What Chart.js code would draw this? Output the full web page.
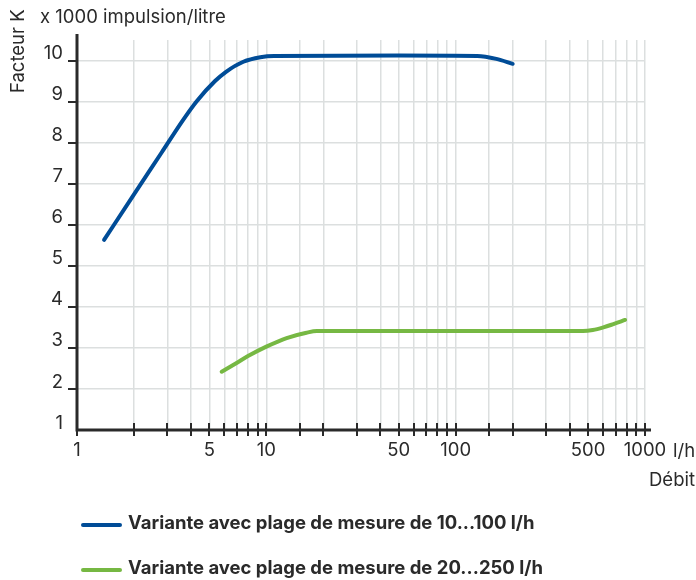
<!DOCTYPE html>
<html>
<head>
<meta charset="utf-8">
<script src="https://cdn.jsdelivr.net/npm/chart.js@4.4.0/dist/chart.umd.min.js"></script>
<style>
  html, body { margin: 0; padding: 0; background: #fff; }
  #box { position: relative; width: 696px; height: 580px; }
</style>
</head>
<body>
<div id="box"><canvas id="grafico1"></canvas></div>
<script>
// debit (l/h) et facteur K (x 1000 impulsion/litre)
const debitA = [1.39, 2.0, 2.8, 3.63, 4.29, 5.36, 6.1, 7.56, 9.3, 11, 50, 130, 164, 200];
const facteurA = [5.63, 6.74, 7.76, 8.55, 9.01, 9.5, 9.72, 9.97, 10.08, 10.11, 10.12, 10.11, 10.04, 9.92];
const debitB = [5.81, 7, 8, 10, 12.8, 16.3, 18.5, 30, 100, 300, 470, 530, 603, 681, 785];
const facteurB = [2.42, 2.64, 2.8, 3.03, 3.24, 3.37, 3.41, 3.41, 3.41, 3.41, 3.41, 3.435, 3.5, 3.58, 3.68];
const series = ['Variante avec plage de mesure de 10...100 l/h', 'Variante avec plage de mesure de 20...250 l/h'];
const couleurs = ['#004c97', '#76b843'];
const etiquettesX = [1, 5, 10, 50, 100, 500, 1000];

const texte = '#2a2a2a';
const police = 'Inter, "Noto Sans", sans-serif';
const taille = 18.5;

const points = (xs, ys) => xs.map((x, i) => ({ x: x, y: ys[i] }));

const axes = {
  id: 'axes',
  afterDraw(chart) {
    const ctx = chart.ctx;
    const sx = chart.scales.x, sy = chart.scales.y;
    const y0 = sy.getPixelForValue(1);
    const x0 = sx.getPixelForValue(1);
    ctx.save();
    ctx.strokeStyle = texte;
    // graduations
    ctx.lineWidth = 2;
    sx.ticks.forEach(t => {
      const px = Math.round(sx.getPixelForValue(t.value));
      ctx.beginPath(); ctx.moveTo(px, y0 - 7); ctx.lineTo(px, y0 + 6); ctx.stroke();
    });
    sy.ticks.forEach(t => {
      if (t.value === 1) return;
      const py = Math.round(sy.getPixelForValue(t.value));
      ctx.beginPath(); ctx.moveTo(x0 - 9, py); ctx.lineTo(x0, py); ctx.stroke();
    });
    // axes
    ctx.lineWidth = 3;
    ctx.beginPath();
    ctx.moveTo(x0, y0 + 1.5); ctx.lineTo(x0, sy.top - 6);
    ctx.moveTo(x0 - 1.5, y0); ctx.lineTo(sx.right + 6, y0);
    ctx.stroke();
    // textes
    ctx.fillStyle = texte;
    ctx.font = taille + 'px ' + police;
    ctx.textBaseline = 'alphabetic';
    ctx.textAlign = 'left';
    ctx.fillText('x 1000 impulsion/litre', 40, 23);
    ctx.fillText('l/h', 673, 457);
    ctx.textAlign = 'right';
    ctx.fillText('Débit', 695, 486);
    ctx.save();
    ctx.translate(24, 93);
    ctx.rotate(-Math.PI / 2);
    ctx.textAlign = 'left';
    ctx.fillText('Facteur K', 0, 0);
    ctx.restore();
    // legende
    chart.data.datasets.forEach((ds, i) => {
      const ly = 525 + i * 45;
      ctx.strokeStyle = ds.borderColor;
      ctx.lineWidth = 4;
      ctx.lineCap = 'round';
      ctx.beginPath(); ctx.moveTo(83, ly); ctx.lineTo(120, ly); ctx.stroke();
      ctx.fillStyle = texte;
      ctx.font = 'bold ' + taille + 'px ' + police;
      ctx.textAlign = 'left';
      ctx.fillText(ds.label, 128, ly + 4);
    });
    ctx.restore();
  }
};

new Chart(document.querySelector('#grafico1'), {
  type: 'line',
  data: {
    datasets: [
      { label: series[0], data: points(debitA, facteurA), borderColor: couleurs[0] },
      { label: series[1], data: points(debitB, facteurB), borderColor: couleurs[1] }
    ]
  },
  options: {
    responsive: true,
    maintainAspectRatio: false,
    animation: false,
    layout: { padding: { left: 0, top: 40, right: 51, bottom: 110 } },
    elements: {
      line: { borderWidth: 4, cubicInterpolationMode: 'monotone', borderCapStyle: 'round', fill: false },
      point: { radius: 0, hoverRadius: 0 }
    },
    plugins: { legend: { display: false }, tooltip: { enabled: false } },
    scales: {
      x: {
        type: 'logarithmic',
        min: 1,
        max: 1000,
        afterFit: s => { s.height = 40; },
        border: { display: false },
        grid: { color: '#dcdfdf', lineWidth: 1.5, drawTicks: false },
        ticks: {
          autoSkip: false,
          maxRotation: 0,
          padding: 9,
          color: texte,
          font: { family: police, size: taille },
          callback: v => etiquettesX.includes(v) ? String(v) : ''
        }
      },
      y: {
        min: 1,
        max: 10.5,
        afterFit: s => { s.width = 77; },
        border: { display: false },
        grid: { color: '#dcdfdf', lineWidth: 1.5, drawTicks: false },
        ticks: {
          stepSize: 0.5,
          padding: 14,
          labelOffset: -7,
          color: texte,
          font: { family: police, size: taille },
          callback: v => Number.isInteger(v) ? String(v) : ''
        }
      }
    }
  },
  plugins: [axes]
});
</script>
</body>
</html>
